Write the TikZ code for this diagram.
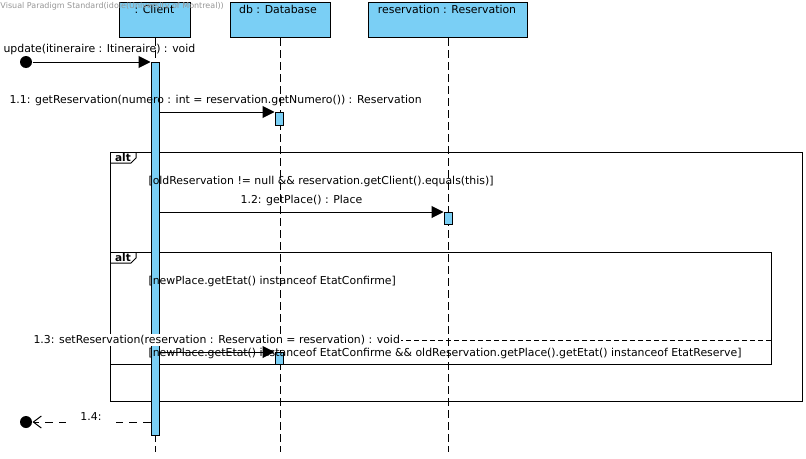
\documentclass[tikz,border=0pt]{standalone}
\usepackage{fontspec}
\setmainfont{DejaVu Sans}
\usetikzlibrary{arrows.meta}
\definecolor{lblue}{RGB}{122,207,245}
\definecolor{wm}{RGB}{150,150,150}
\begin{document}
\begin{tikzpicture}[x=1pt,y=-1pt,line width=1pt,
  lbl/.style={font=\fontsize{10.9}{12}\selectfont,inner sep=0pt},
  head/.style={draw,fill=lblue,minimum width=#1,minimum height=35,inner sep=0pt},
  lifeline/.style={dash pattern=on 8pt off 4pt},
  act/.style={draw,fill=lblue,minimum width=8,minimum height=#1,inner sep=0pt},
  msg/.style={-{Triangle[length=12pt,width=12pt]}},
  ret/.style={dash pattern=on 8pt off 6pt,-{Straight Barb[length=8pt,width=12pt]}},
  frame/.style={draw},
  tag/.style={font=\fontsize{10.5}{11}\bfseries\selectfont,inner sep=0pt},
  endpt/.style={circle,fill=black,minimum size=12,inner sep=0pt}]
\useasboundingbox (0,0) rectangle (806,458);
% heads
\node[head=71,anchor=north west] (client) at (119,2) {};
\node[head=100,anchor=north west] (db) at (230,2) {};
\node[head=159,anchor=north west] (res) at (368,2) {};
\node[lbl] (clientT) at (154.5,9.5) {: Client};
\node[lbl] (dbT) at (278,9.5) {db : Database};
\node[lbl] (resT) at (447,9.5) {reservation : Reservation};
\node[font=\fontsize{8}{9}\selectfont,text=wm,anchor=west,inner sep=0pt] (wmark) at (0,6) {Visual Paradigm Standard(idole(University of Montreal))};
\coordinate (bot) at (0,452);
\draw[lifeline] (client.south) -- (client.south |- bot);
\draw[lifeline] (db.south) -- (db.south |- bot);
\draw[lifeline] (res.south) -- (res.south |- bot);
% frames
\draw[frame] (110,152) rectangle (802,401);
\draw (110,163) -- (131,163) -- (136,158) -- (136,152);
\node[tag] (alt1) at (123,157.5) {alt};
\draw[frame] (110,252) rectangle (771,364);
\draw (110,263) -- (131,263) -- (136,258) -- (136,252);
\node[tag] (alt2) at (123,257.5) {alt};
\draw[dash pattern=on 5pt off 3pt] (110,340) -- (771,340);
% activations
\node[act=373,anchor=north] (actC) at (155,62) {};
\node[act=13,anchor=north] (actD1) at (279,112) {};
\node[act=12,anchor=north] (actR) at (448,212) {};
\node[act=12,anchor=north] (actD2) at (279,352) {};
% found message
\node[endpt] (start) at (26,62) {};
\draw[msg] (start) -- (start -| actC.west);
\node[lbl,anchor=west] (m0) at (3,49) {update(itineraire : Itineraire) : void};
% 1.1
\coordinate (s11) at (actC.east |- actD1.north);
\draw[msg] (s11) -- (actD1.north west);
\node[lbl,anchor=west] (m11) at (9,100) {1.1: getReservation(numero : int = reservation.getNumero()) : Reservation};
% guard 1
\node[lbl,anchor=west] (g1) at (148,181) {[oldReservation != null \&\& reservation.getClient().equals(this)]};
% 1.2
\coordinate (s12) at (actC.east |- actR.north);
\draw[msg] (s12) -- (actR.north west);
\node[lbl] (m12) at (301.5,200) {1.2: getPlace() : Place};
% guard 2
\node[lbl,anchor=west] (g2) at (148,281) {[newPlace.getEtat() instanceof EtatConfirme]};
% 1.3 label
\node[lbl,anchor=west,fill=white,inner xsep=1pt,inner ysep=1pt] (m13) at (32,340) {1.3: setReservation(reservation : Reservation = reservation) : void};
% guard 3
\node[lbl,anchor=west] (g3) at (148,353) {[newPlace.getEtat() instanceof EtatConfirme \&\& oldReservation.getPlace().getEtat() instanceof EtatReserve]};
\coordinate (s13) at (actC.east |- actD2.north);
\draw[msg] (s13) -- (actD2.north west);
% 1.4
\node[endpt] (fin) at (26,422) {};
\draw[ret] (actC.west |- fin) -- (fin);
\node[lbl,fill=white,inner xsep=14pt,inner ysep=2pt] (m14) at (91,417) {1.4:};
\end{tikzpicture}
\end{document}
